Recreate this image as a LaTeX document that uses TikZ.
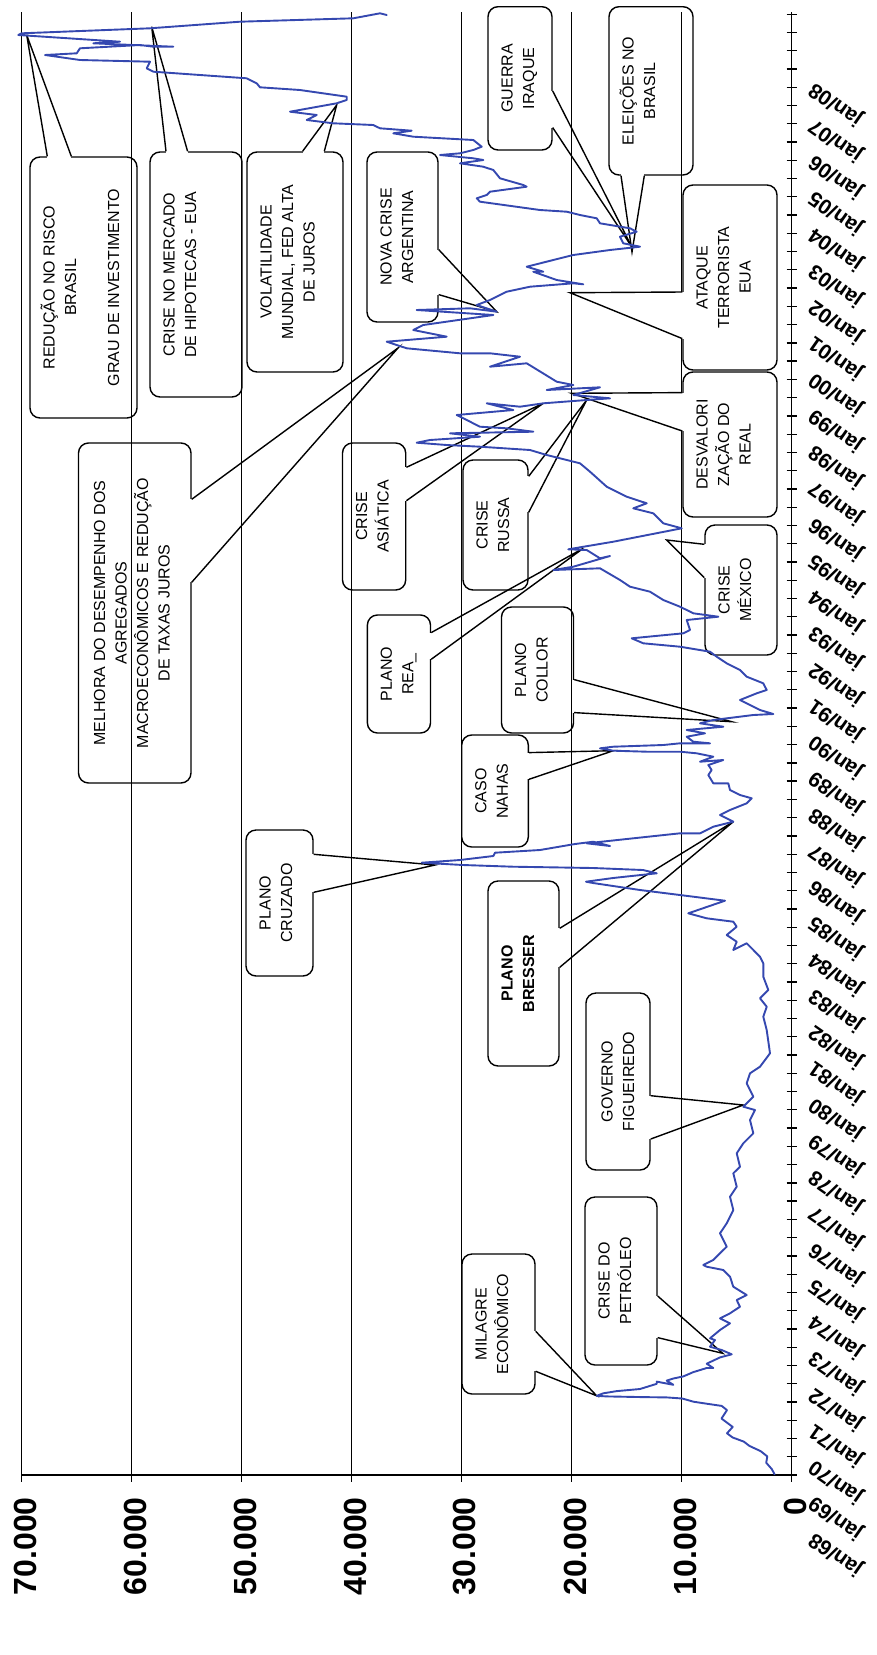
\documentclass[tikz,border=0pt]{standalone}
\usepackage{fontspec}
\setmainfont{Liberation Sans}
\usepackage{tikz}
\usetikzlibrary{calc,fit}
\definecolor{seriecol}{HTML}{3548B0}
\tikzset{
  grid/.style={draw=black, line width=1.3pt},
  axis/.style={draw=black, line width=1.6pt},
  tick/.style={draw=black, line width=1.3pt},
  callbox/.style={draw=black, line width=1.4pt, rounded corners=10pt, inner sep=0pt},
  calltext/.style={font={\fontsize{16}{21.5}\selectfont}, anchor=west, inner sep=0pt},
  ptr/.style={draw=black, line width=1.4pt, line join=miter},
  erase/.style={draw=white, line width=3.5pt},
  serie/.style={draw=seriecol, line width=1.9pt, line join=round, line cap=round},
  vallab/.style={font={\fontsize{32}{32}\bfseries\selectfont}, rotate=90, anchor=east, inner sep=0pt},
  datelab/.style={font={\fontsize{21}{21}\bfseries\selectfont}, rotate=145, inner sep=0pt},
}
\newcommand\vlab[1]{\rotatebox{90}{\begin{tabular}{@{}c@{}}#1\end{tabular}}}
\newcommand\callptr[3]{\draw[erase] (#1) -- (#2); \draw[ptr] (#1) -- (#3) -- (#2);}

\begin{document}
\begin{tikzpicture}[x=1pt, y=-1pt]
\useasboundingbox (0,0) rectangle (877,1655);

% callout boxes
\node[callbox, fit={(30,157) (137,418)}] (red) {};
\node[callbox, fit={(150,152) (242,397)}] (hip) {};
\node[callbox, fit={(247,152) (343,372)}] (vol) {};
\node[callbox, fit={(367,152) (438,322)}] (arg) {};
\node[callbox, fit={(78.5,443) (191,783)}] (mel) {};
\node[callbox, fit={(342.5,443) (405.7,590)}] (asi) {};
\node[callbox, fit={(463,460) (528,590)}] (rus) {};
\node[callbox, fit={(367.4,615) (430.5,733)}] (rea) {};
\node[callbox, fit={(501.5,607) (573.5,733)}] (col) {};
\node[callbox, fit={(461.7,735) (528.3,847)}] (nah) {};
\node[callbox, fit={(246,830) (313,976)}] (cru) {};
\node[callbox, fit={(488,881) (559,1066)}] (bre) {};
\node[callbox, fit={(586,993) (650,1170)}] (gov) {};
\node[callbox, fit={(585,1197) (657,1365)}] (pet) {};
\node[callbox, fit={(462,1254) (535,1394)}] (mil) {};
\node[callbox, fit={(705,525) (777,655)}] (mex) {};
\node[callbox, fit={(683,372) (777,517)}] (des) {};
\node[callbox, fit={(683,185) (777,370)}] (ata) {};
\node[callbox, fit={(609,6.7) (693,175)}] (ele) {};
\node[callbox, fit={(488,6.7) (552,150)}] (gue) {};

% grid and axes
\foreach \v in {10,20,...,70}
  \draw[grid] ({791.5-11*\v},12) -- ({791.5-11*\v},1475);
\draw[axis] (21.5,1475) -- (791.5,1475);
\draw[axis] (791.5,12) -- (791.5,1475);
\foreach \v in {0,10,...,70}
  \draw[tick] ({791.5-11*\v},1475) -- ({791.5-11*\v},1482);
\foreach \k in {0,...,80}
  \draw[tick] (786.5,{1475-18.26*\k}) -- (796.5,{1475-18.26*\k});

\foreach \v/\t in {0/0,10/10.000,20/20.000,30/30.000,40/40.000,50/50.000,60/60.000,70/70.000}
  \node[vallab] (v\v) at ({795-11*\v},1497) {\t};
\foreach \k in {0,...,40}{
  \pgfmathtruncatemacro\yy{mod(68+\k,100)}
  \node[datelab] (d\k) at (836,{1554-36.25*\k}) {jan/\ifnum\yy<10 0\fi\yy};
}

% pointer tips
\coordinate (t-red) at (26.7,35);
\coordinate (t-hip) at (151.7,26.7);
\coordinate (t-vol) at (336.7,105);
\coordinate (t-arg) at (496.7,311.7);
\coordinate (t-mel) at (398,348);
\coordinate (t-asi) at (543.3,403.3);
\coordinate (t-rus) at (586.7,400);
\coordinate (t-rea) at (583.3,548.3);
\coordinate (t-col) at (731.7,721.7);
\coordinate (t-nah) at (613.3,750.7);
\coordinate (t-cru) at (435,865);
\coordinate (t-bre) at (733.3,821.7);
\coordinate (t-gov) at (743.3,1105);
\coordinate (t-pet) at (722.7,1353.3);
\coordinate (t-mil) at (596.7,1395.8);
\coordinate (t-mex) at (666.7,540);
\coordinate (t-des) at (571.7,393.3);
\coordinate (t-ata) at (570,292.7);
\coordinate (t-ele) at (632,252);
\coordinate (t-gue) at (631.7,246.7);

% pointers
\callptr{$(red.north west)+(18,0)$}{$(red.north west)+(42,0)$}{t-red}
\callptr{$(hip.north west)+(16.7,0)$}{$(hip.north west)+(38.3,0)$}{t-hip}
\callptr{$(vol.north west)+(56.3,0)$}{$(vol.north west)+(78,0)$}{t-vol}
\callptr{$(arg.north east)+(0,98.3)$}{$(arg.north east)+(0,143.3)$}{t-arg}
\callptr{$(mel.north east)+(0,57)$}{$(mel.north east)+(0,140)$}{t-mel}
\callptr{$(asi.north east)+(0,25)$}{$(asi.north east)+(0,58.4)$}{t-asi}
\callptr{$(rus.north east)+(0,17)$}{$(rus.north east)+(0,53)$}{t-rus}
\callptr{$(rea.north east)+(0,18.3)$}{$(rea.north east)+(0,45)$}{t-rea}
\callptr{$(col.north east)+(0,73.3)$}{$(col.north east)+(0,106.3)$}{t-col}
\callptr{$(nah.north east)+(0,18.3)$}{$(nah.north east)+(0,45)$}{t-nah}
\callptr{$(cru.north east)+(0,25)$}{$(cru.north east)+(0,63)$}{t-cru}
\callptr{$(bre.north east)+(0,48)$}{$(bre.north east)+(0,87)$}{t-bre}
\callptr{$(gov.north east)+(0,103.4)$}{$(gov.north east)+(0,146.7)$}{t-gov}
\callptr{$(pet.north east)+(0,99.7)$}{$(pet.north east)+(0,141.3)$}{t-pet}
\callptr{$(mil.north east)+(0,78)$}{$(mil.north east)+(0,118)$}{t-mil}
\callptr{$(mex.north west)+(0,20)$}{$(mex.north west)+(0,53.3)$}{t-mex}
\callptr{$(des.north west)+(0,21.3)$}{$(des.north west)+(0,59.7)$}{t-des}
\callptr{$(ata.north west)+(0,107.7)$}{$(ata.north west)+(0,154.3)$}{t-ata}
\callptr{$(ele.south west)+(12.7,0)$}{$(ele.south west)+(36,0)$}{t-ele}
\callptr{$(gue.north east)+(0,85)$}{$(gue.north east)+(0,121.6)$}{t-gue}

% callout texts
\node[calltext] (red-t) at ($(red.west)+(10,0)$) {\vlab{REDUÇÃO NO RISCO\\BRASIL\\ \\GRAU DE INVESTIMENTO}};
\node[calltext] (hip-t) at ($(hip.west)+(10,0)$) {\vlab{CRISE NO MERCADO\\DE HIPOTECAS - EUA}};
\node[calltext] (vol-t) at ($(vol.west)+(10,0)$) {\vlab{VOLATILIDADE\\MUNDIAL, FED ALTA\\DE JUROS}};
\node[calltext] (arg-t) at ($(arg.west)+(10,0)$) {\vlab{NOVA CRISE\\ARGENTINA}};
\node[calltext] (mel-t) at ($(mel.west)+(12,0)$) {\vlab{MELHORA DO DESEMPENHO DOS\\AGREGADOS\\MACROECONÔMICOS E REDUÇÃO\\DE TAXAS JUROS}};
\node[calltext] (asi-t) at ($(asi.west)+(10,0)$) {\vlab{CRISE\\ASIÁTICA}};
\node[calltext] (rus-t) at ($(rus.west)+(10,0)$) {\vlab{CRISE\\RUSSA}};
\node[calltext] (rea-t) at ($(rea.west)+(10,0)$) {\vlab{PLANO\\REA\_}};
\node[calltext] (col-t) at ($(col.west)+(10,0)$) {\vlab{PLANO\\COLLOR}};
\node[calltext] (nah-t) at ($(nah.west)+(10,0)$) {\vlab{CASO\\NAHAS}};
\node[calltext] (cru-t) at ($(cru.west)+(10,0)$) {\vlab{PLANO\\CRUZADO}};
\node[calltext] (bre-t) at ($(bre.west)+(10,0)$) {\vlab{\bfseries PLANO\\\bfseries BRESSER}};
\node[calltext] (gov-t) at ($(gov.west)+(12,0)$) {\vlab{GOVERNO\\FIGUEIREDO}};
\node[calltext] (pet-t) at ($(pet.west)+(10,0)$) {\vlab{CRISE DO\\PETRÓLEO}};
\node[calltext] (mil-t) at ($(mil.west)+(10,0)$) {\vlab{MILAGRE\\ECONÔMICO}};
\node[calltext] (mex-t) at ($(mex.west)+(10,0)$) {\vlab{CRISE\\MÉXICO}};
\node[calltext] (des-t) at ($(des.west)+(10,0)$) {\vlab{DESVALORI\\ZAÇÃO DO\\REAL}};
\node[calltext] (ata-t) at ($(ata.west)+(10,0)$) {\vlab{ATAQUE\\TERRORISTA\\EUA}};
\node[calltext] (ele-t) at ($(ele.west)+(10,0)$) {\vlab{ELEIÇÕES NO\\BRASIL}};
\node[calltext] (gue-t) at ($(gue.west)+(10,0)$) {\vlab{GUERRA\\IRAQUE}};

% index series
\draw[serie] plot coordinates {
(774.6,1474.3) (771.8,1469.1) (766.2,1462.7) (767.3,1456.4) (760.6,1451.1) (749.4,1445.9)
(743.8,1441.6) (732.7,1437.5) (727,1433.3) (732.7,1426.9) (721.5,1418.5) (727,1410.1)
(721.7,1405.9) (706.7,1403.7) (693.5,1401.7) (682.3,1398.5) (666.7,1397.4) (643.2,1397.1)
(606.7,1396.4) (596.7,1395.8) (603.3,1393.3) (616.7,1391.1) (640,1389) (656.7,1383.8)
(656.7,1381.6) (673.3,1384.8) (666.7,1380.6) (673.3,1378.5) (683.3,1376.4) (693.3,1372.1)
(706.7,1368) (713.3,1368) (706.7,1363.7) (720,1357.4) (731.7,1354.3) (721.7,1350)
(710,1346.7) (715,1340) (710,1338.3) (720,1330) (730,1323.3) (720,1318.3) (730,1313.3)
(740,1306.7) (736.7,1300) (746.7,1295) (733.3,1286.7) (730,1276.7) (723.3,1270)
(706.7,1266.7) (703.3,1265) (713.3,1260) (723.3,1250) (726.7,1246.7) (720,1233.3)
(726.7,1223.3) (733.3,1210) (730,1196.7) (736.7,1186.7) (733.3,1173.3) (740,1166.7)
(736.7,1153.3) (743.3,1143.3) (753.3,1133.3) (750,1120) (755,1110) (743.3,1106.7)
(753.3,1096.7) (746.7,1083.3) (750,1073.3) (760,1066.7) (770,1053.3) (766.7,1030)
(763.3,1016.7) (766.7,1006.7) (760,998.3) (768.3,990) (763.3,976.7) (763.3,963.3)
(760,956.7) (746.7,943.3) (733.3,950) (736.7,941.7) (726.7,935) (736.7,926.7)
(733.3,921.7) (706.7,918.3) (688.3,913.3) (725,900.7) (680,895) (640,890) (593,883)
(586,881.7) (613,878) (656.7,873.3) (643,870) (593,868) (513,866.7) (463,865)
(421.7,862.7) (460,860) (493.3,856) (495,852.7) (540,850) (575,844) (593.3,841.7)
(610,846) (586.7,843.3) (633.3,838.3) (680,833.3) (700,833.3) (713.3,826.7)
(733.3,821.7) (720,815) (730,810) (746.7,803.3) (751.7,798.3) (740,795) (730,790)
(728.3,783.3) (713.3,783.3) (708.3,775) (711.7,770) (708.3,765) (723.3,760) (700,761.7)
(713.3,756.7) (696.7,753.3) (680,751.7) (646.7,751.7) (613.3,750.7) (600,748.3)
(613.3,746.7) (663.3,745) (680,743.3) (710,743.3) (693.3,741.7) (686.7,736.7)
(705,733.3) (686.7,730) (723.3,726.7) (700,723.3) (713.3,720) (753.3,715) (773.3,714)
(760,710) (753.3,706.7) (740,700) (756.7,693.3) (766.7,690) (763.3,683.3) (746.7,676.7)
(740,670) (726.7,663.3) (716.7,656.7) (710,651.7) (680,646.7) (643.3,643.3)
(631.7,638.3) (683.3,633.3) (690,630) (686.7,620) (718.3,616.7) (693.3,613.3)
(680,606.7) (663.3,600) (650,591.7) (630,586.7) (620,580) (600,568.3) (553.3,570)
(573.3,566.7) (610,556) (600,558.3) (586.7,550) (568.3,549.3) (613.3,541.7)
(681.7,528.3) (663.3,523.3) (653.3,513.3) (633.3,508.3) (646.7,503.3) (626.7,496.7)
(606.7,486.7) (590,471.7) (580,463.3) (546.7,455) (530,450) (480,446.7) (446.7,445)
(416.7,442.7) (430,440) (480,436.7) (450,433.3) (533.3,431.7) (506.7,428.3)
(480,426.7) (456.7,415) (513.3,410) (486.7,403.3) (520,406.7) (543.3,403.3)
(586.7,400) (610,398.3) (573.3,395) (600,387.3) (546.7,390) (573.3,385) (556.7,381.7)
(526.7,363.3) (490,366.7) (520,356.7) (490,353.3) (460,353.3) (406.7,348.3)
(386.7,341.7) (446.7,336.7) (413.3,330) (423.3,325) (493.3,315) (416.7,310)
(470,308.3) (496.7,311.7) (476.7,305) (490,300) (506.7,291.7) (530,286.7)
(573.3,283.3) (583.3,284.3) (556.7,280) (533.3,271.7) (543.3,271.7) (526.7,266.7)
(553.3,260) (573.3,255) (610,250) (640,246.7) (623.3,243.3) (620,236.7) (636.7,231.7)
(630,228.3) (600,223.3) (596.7,218.3) (580,215) (566.7,211.7) (540,210) (480,201.7)
(476.7,198.3) (486.7,195) (490,191.7) (526.7,186.7) (523.3,185) (500,178.3)
(493.3,170) (483.3,166.7) (460,163.3) (483.3,160) (473.3,158.3) (440,155) (460,153.3)
(473.3,150) (481.7,146.7) (473.3,140) (413.3,136.7) (393.3,133.3) (411.7,130.7)
(380,128.3) (373.3,125) (333.3,123.3) (306.7,120) (316.7,115) (290,111.7)
(336.7,103.3) (346.7,100) (346.7,96.7) (300,90) (260,87.3) (256.7,83.3) (246.7,78.3)
(153.3,71.7) (146.7,68.3) (150,61.7) (80,60) (45,55) (76.7,53.3) (80,48.3) (140,45)
(153.3,46.7) (173.3,46.7) (93.3,43.3) (120,41.7) (18.3,35) (21.7,33.3) (150,28.3)
(240,21.7) (353.3,18.3) (380,13.3) (386.7,15)
};
\end{tikzpicture}
\end{document}
